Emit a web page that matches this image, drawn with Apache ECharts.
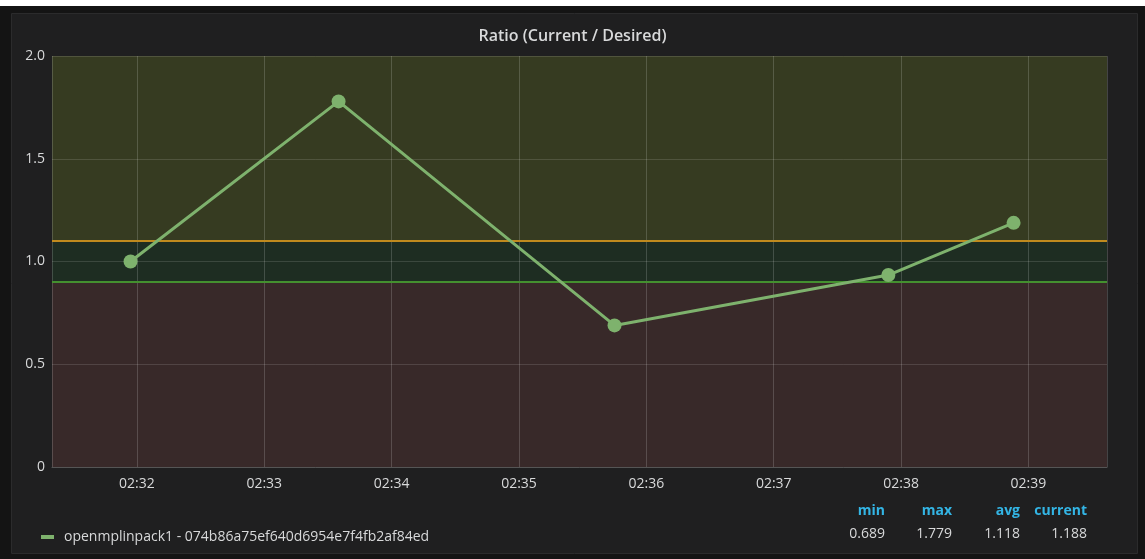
<!DOCTYPE html>
<html>
<head>
<meta charset="utf-8">
<script src="https://cdn.jsdelivr.net/npm/echarts@6/dist/echarts.min.js"></script>
<style>
  html, body { margin: 0; padding: 0; background: #141414; }
  #chart { width: 1145px; height: 559px; }
</style>
</head>
<body>
<div id="chart"></div>
<script>
// data
var times = ['02:31:57', '02:33:35', '02:35:45', '02:37:54', '02:38:53'];
var ratio = [1.0, 1.779, 0.689, 0.934, 1.188];
var seriesName = 'openmplinpack1 - 074b86a75ef640d6954e7f4fb2af84ed';
var yTicks = [0, 0.5, 1.0, 1.5, 2.0];
var thresholds = [0.9, 1.1];
var axisStart = '02:31:20';
var axisEnd = '02:39:37';

function toTs(s) {
  var p = s.split(':');
  return new Date(2017, 0, 1, +p[0], +p[1], +p[2]).getTime();
}
function pad(n) { return (n < 10 ? '0' : '') + n; }

var points = times.map(function (t, i) { return [toTs(t), ratio[i]]; });

// legend stats
var stMin = Math.min.apply(null, ratio);
var stMax = Math.max.apply(null, ratio);
var stAvg = ratio.reduce(function (a, b) { return a + b; }, 0) / ratio.length;
var stCur = ratio[ratio.length - 1];
var statNames = ['min', 'max', 'avg', 'current'];
var statVals = [stMin, stMax, stAvg, stCur];
var statRight = [885, 952, 1020, 1087];

var txt = '#d8d9da';
var font = '"Open Sans", "Noto Sans", sans-serif';

var graphics = [
  { type: 'rect', z: -10, shape: { x: 0, y: 0, width: 1145, height: 6 }, style: { fill: '#ffffff' } },
  { type: 'rect', z: -10, shape: { x: 11.5, y: 13.5, width: 1126, height: 540 }, style: { fill: '#1f1f20', stroke: '#2b2b2c', lineWidth: 1 } }
];
statNames.forEach(function (n, i) {
  graphics.push({
    type: 'text', x: statRight[i], y: 511,
    style: { text: n, fill: '#33b5e5', font: 'bold 14px ' + font, align: 'right', verticalAlign: 'middle' }
  });
  graphics.push({
    type: 'text', x: statRight[i], y: 534,
    style: { text: statVals[i].toFixed(3), fill: txt, font: '14px ' + font, align: 'right', verticalAlign: 'middle' }
  });
});

var chart = echarts.init(document.getElementById('chart'));
var option = {
  backgroundColor: 'transparent',
  animation: false,
  textStyle: { fontFamily: font },
  title: {
    text: 'Ratio (Current / Desired)',
    left: 'center',
    top: 23,
    textStyle: { color: txt, fontSize: 16, fontWeight: 600, fontFamily: font }
  },
  graphic: graphics,
  legend: {
    data: [seriesName],
    left: 36,
    top: 525,
    icon: 'rect',
    itemWidth: 13,
    itemHeight: 4,
    textStyle: { color: txt, fontSize: 14, padding: [0, 0, 0, 5] }
  },
  grid: { left: 52, top: 56, right: 38, bottom: 92 },
  xAxis: {
    type: 'time',
    z: 2,
    min: toTs(axisStart),
    max: toTs(axisEnd),
    minInterval: 60000,
    maxInterval: 60000,
    axisLine: { show: true, lineStyle: { color: '#555' } },
    axisTick: { show: false },
    axisLabel: {
      color: txt, fontSize: 14, margin: 10,
      formatter: function (v) {
        var d = new Date(v);
        return pad(d.getHours()) + ':' + pad(d.getMinutes());
      }
    },
    splitLine: { show: true, lineStyle: { color: 'rgba(255,255,255,0.17)', width: 1 } }
  },
  yAxis: {
    type: 'value',
    z: 2,
    min: yTicks[0],
    max: yTicks[yTicks.length - 1],
    interval: yTicks[1] - yTicks[0],
    axisLine: { show: false },
    axisTick: { show: false },
    axisLabel: {
      color: txt, fontSize: 14, margin: 7,
      formatter: function (v) { return v === 0 ? '0' : v.toFixed(1); }
    },
    splitLine: { show: true, lineStyle: { color: 'rgba(255,255,255,0.13)', width: 1 } }
  },
  series: [
    {
      name: 'bands',
      type: 'line',
      z: 0,
      silent: true,
      data: points,
      symbol: 'none',
      lineStyle: { opacity: 0 },
      markArea: {
        silent: true,
        z: 0,
        data: [
          [{ yAxis: thresholds[1], itemStyle: { color: '#363b21' } }, { yAxis: yTicks[yTicks.length - 1] }],
          [{ yAxis: thresholds[0], itemStyle: { color: '#1e2d22' } }, { yAxis: thresholds[1] }],
          [{ yAxis: yTicks[0], itemStyle: { color: '#382929' } }, { yAxis: thresholds[0] }]
        ]
      }
    },
    {
      name: seriesName,
      type: 'line',
      z: 4,
      data: points,
      color: '#7eb26d',
      symbol: 'circle',
      symbolSize: 14,
      lineStyle: { width: 3, color: '#7eb26d' },
      itemStyle: { color: '#7eb26d' },
      markLine: {
        silent: true,
        z: 3,
        symbol: 'none',
        label: { show: false },
        data: [
          { yAxis: thresholds[1], lineStyle: { color: '#c08a1e', width: 2, type: 'solid' } },
          { yAxis: thresholds[0], lineStyle: { color: '#44902f', width: 2, type: 'solid' } }
        ]
      }
    }
  ]
};
chart.setOption(option);
</script>
</body>
</html>
